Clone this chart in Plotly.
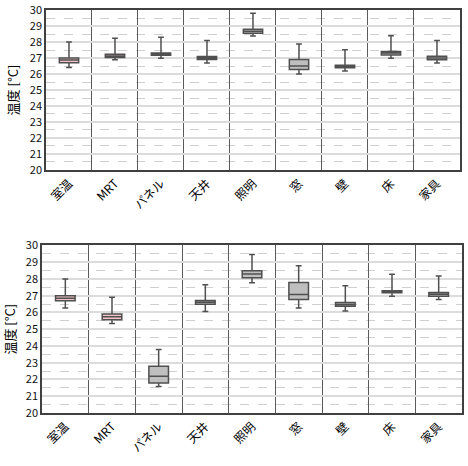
import plotly.graph_objects as go

categories = ["室温", "MRT", "パネル", "天井", "照明", "窓", "壁", "床", "家具"]

# Top chart (upper whisker, q3, median, q1, lower whisker)
top_upper = [28.0, 28.23, 28.29, 28.09, 29.8, 27.87, 27.51, 28.39, 28.09]
top_q3 = [27.0, 27.23, 27.31, 27.1, 28.8, 26.91, 26.55, 27.41, 27.11]
top_med = [26.87, 27.13, 27.25, 27.0, 28.67, 26.5, 26.46, 27.31, 27.0]
top_q1 = [26.7, 27.03, 27.17, 26.9, 28.55, 26.28, 26.39, 27.19, 26.89]
top_lower = [26.4, 26.89, 26.99, 26.69, 28.37, 26.0, 26.19, 26.99, 26.69]
top_colors = ["#f2c4c9", "#f2c4c9", "#bfbfbf", "#bfbfbf", "#bfbfbf", "#bfbfbf", "#bfbfbf", "#bfbfbf", "#bfbfbf"]

# Bottom chart
bot_upper = [28.0, 26.91, 23.79, 27.65, 29.46, 28.78, 27.59, 28.27, 28.17]
bot_q3 = [26.99, 25.9, 22.79, 26.71, 28.48, 27.79, 26.59, 27.29, 27.19]
bot_med = [26.85, 25.74, 22.19, 26.6, 28.29, 27.07, 26.47, 27.23, 27.09]
bot_q1 = [26.69, 25.56, 21.79, 26.48, 28.06, 26.77, 26.37, 27.17, 26.97]
bot_lower = [26.27, 25.34, 21.58, 26.06, 27.77, 26.27, 26.08, 26.97, 26.77]
bot_colors = ["#f2c4c9", "#f2c4c9", "#bfbfbf", "#bfbfbf", "#bfbfbf", "#bfbfbf", "#bfbfbf", "#bfbfbf", "#bfbfbf"]

y_ticks = list(range(20, 31))
y_title = "温度 [°C]"

FONT = "Noto Sans CJK JP, Open Sans, sans-serif"
fig = go.Figure()

def add_boxes(upper, q3, med, q1, lower, colors, xa, ya):
    for i, c in enumerate(categories):
        fig.add_trace(go.Box(
            x=[c], q1=[q1[i]], median=[med[i]], q3=[q3[i]],
            lowerfence=[lower[i]], upperfence=[upper[i]],
            fillcolor=colors[i], line=dict(color="#505050", width=1.5),
            width=0.42, whiskerwidth=0.3, boxpoints=False,
            xaxis=xa, yaxis=ya, showlegend=False, hoverinfo="skip",
        ))

add_boxes(top_upper, top_q3, top_med, top_q1, top_lower, top_colors, "x", "y")
add_boxes(bot_upper, bot_q3, bot_med, bot_q1, bot_lower, bot_colors, "x2", "y2")

xcommon = dict(
    type="category", categoryorder="array", categoryarray=categories,
    tickson="boundaries", showgrid=True, gridcolor="#5a5a5a", gridwidth=1.3,
    showline=True, linecolor="#404040", linewidth=1.5, mirror=True,
    tickangle=-45, ticks="", tickfont=dict(size=12, color="#000", family=FONT),
    range=[-0.5, 8.5], automargin=False,
)
ycommon = dict(
    range=[20, 30], tickvals=y_ticks, showgrid=True, gridcolor="#dcdcdc", gridwidth=1.5,
    minor=dict(dtick=0.5, showgrid=True, griddash="dash", gridcolor="#cfcfcf", gridwidth=1),
    showline=True, linecolor="#404040", linewidth=1.5, mirror=True, ticks="",
    tickfont=dict(size=11, color="#111", family=FONT), zeroline=False,
    title=dict(text=y_title, font=dict(size=13, color="#000", family=FONT), standoff=8),
    automargin=False, ticklabeloverflow="allow",
)

fig.update_layout(
    width=468, height=466,
    margin=dict(l=42, r=6, t=10, b=53),
    paper_bgcolor="white", plot_bgcolor="white",
    font=dict(family=FONT),
    xaxis=dict(xcommon, domain=[0.0095, 0.9952], anchor="y"),
    yaxis=dict(ycommon, domain=[0.603, 1.0], anchor="x"),
    xaxis2=dict(xcommon, domain=[0.0, 1.0], anchor="y2"),
    yaxis2=dict(ycommon, domain=[0.0, 0.416], anchor="x2"),
)

fig.write_html("out.html")
